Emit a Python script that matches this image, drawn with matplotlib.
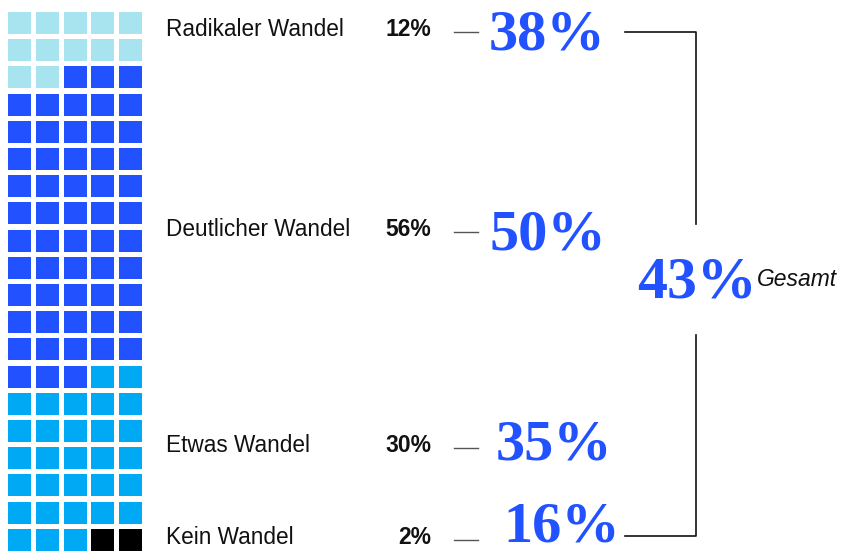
import matplotlib
matplotlib.use("Agg")
import matplotlib.pyplot as plt
from matplotlib.patches import Rectangle

# Data
categories = ["Radikaler Wandel", "Deutlicher Wandel", "Etwas Wandel", "Kein Wandel"]
shares = [12, 56, 30, 2]
share_labels = ["12%", "56%", "30%", "2%"]
big_values = ["38%", "50%", "35%", "16%"]
total_label = "43%"
total_text = "Gesamt"
colors = ["#a8e4ef", "#2251ff", "#00a9f4", "#000000"]

W, H = 842, 553
fig = plt.figure(figsize=(W / 100, H / 100), dpi=100)
ax = fig.add_axes([0, 0, 1, 1])
ax.set_xlim(0, W)
ax.set_ylim(H, 0)
ax.axis("off")

# Waffle grid
ncols, nrows = 5, 20
x0, y0 = 8, 12
px, py = 27.75, 27.2
sw, sh = 23, 22
cells = []
for c, n in zip(colors, shares):
    cells += [c] * n
for i, c in enumerate(cells):
    r, k = divmod(i, ncols)
    ax.add_patch(Rectangle((x0 + k * px, y0 + r * py), sw, sh, facecolor=c, edgecolor="none"))

# Labels
label_y = [29, 229, 445, 537]
big_y = [35, 235, 445, 527]
big_x = [489, 489, 496, 503]
blue = "#2251ff"
for cat, sl, bv, ly, by, bx in zip(categories, share_labels, big_values, label_y, big_y, big_x):
    ax.text(166, ly, cat, fontsize=16.3, family="Liberation Sans", va="center", ha="left", color="#111111")
    ax.text(431, ly, sl, fontsize=16.5, family="Liberation Sans", fontweight="bold", va="center", ha="right", color="#111111")
    ax.plot([454, 478], [ly + 3, ly + 3], color="#555555", lw=1)
    ax.text(bx, by, bv, fontsize=42, family="Liberation Serif", fontweight="bold", va="center", ha="left", color=blue)

# Bracket
kc = "#111111"
ax.plot([625, 696, 696], [32, 32, 224], color=kc, lw=1.2)
ax.plot([696, 696, 625], [335, 536, 536], color=kc, lw=1.2)
ax.text(637, 283, total_label, fontsize=43, family="Liberation Serif", fontweight="bold", va="center", ha="left", color=blue)
ax.text(757, 280, total_text, fontsize=16.5, family="Liberation Sans", style="italic", va="center", ha="left", color="#111111")

fig.savefig("out.png", dpi=100)
